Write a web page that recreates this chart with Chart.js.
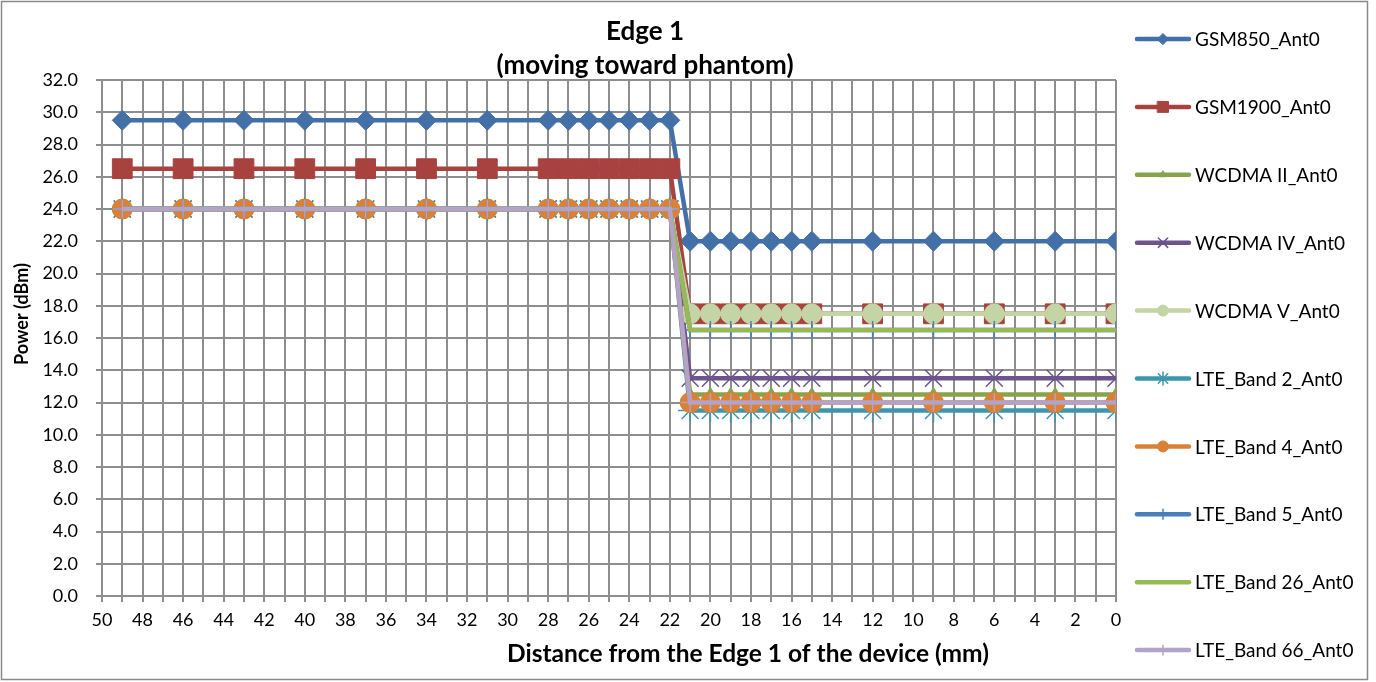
<!DOCTYPE html>
<html>
<head>
<meta charset="utf-8">
<title>Edge 1 (moving toward phantom)</title>
<script src="https://cdn.jsdelivr.net/npm/chart.js@4.4.1/dist/chart.umd.min.js"></script>
<style>
    html, body { margin: 0; padding: 0; background: #fff; }
    #wrap { width: 1376px; height: 682px; }
</style>
</head>
<body>
<div id="wrap"><canvas id="edgeChart" width="1376" height="682"></canvas></div>
<script>
// Edge 1 power vs distance chart

const FONT = 'Lato, "Noto Sans", sans-serif';
const GRID = '#8e8e8e';

// distance from edge (mm), one entry per measurement point
const distances = [49, 46, 43, 40, 37, 34, 31, 28, 27, 26, 25, 24, 23, 22,
                   21, 20, 19, 18, 17, 16, 15, 12, 9, 6, 3, 0];

// power (dBm) per band, same order as distances
const gsm850   = [29.5, 29.5, 29.5, 29.5, 29.5, 29.5, 29.5, 29.5, 29.5, 29.5, 29.5, 29.5, 29.5, 29.5,
                  22, 22, 22, 22, 22, 22, 22, 22, 22, 22, 22, 22];
const gsm1900  = [26.5, 26.5, 26.5, 26.5, 26.5, 26.5, 26.5, 26.5, 26.5, 26.5, 26.5, 26.5, 26.5, 26.5,
                  17.5, 17.5, 17.5, 17.5, 17.5, 17.5, 17.5, 17.5, 17.5, 17.5, 17.5, 17.5];
const wcdma2   = [24, 24, 24, 24, 24, 24, 24, 24, 24, 24, 24, 24, 24, 24,
                  12.5, 12.5, 12.5, 12.5, 12.5, 12.5, 12.5, 12.5, 12.5, 12.5, 12.5, 12.5];
const wcdma4   = [24, 24, 24, 24, 24, 24, 24, 24, 24, 24, 24, 24, 24, 24,
                  13.5, 13.5, 13.5, 13.5, 13.5, 13.5, 13.5, 13.5, 13.5, 13.5, 13.5, 13.5];
const wcdma5   = [24, 24, 24, 24, 24, 24, 24, 24, 24, 24, 24, 24, 24, 24,
                  17.5, 17.5, 17.5, 17.5, 17.5, 17.5, 17.5, 17.5, 17.5, 17.5, 17.5, 17.5];
const lteB2    = [24, 24, 24, 24, 24, 24, 24, 24, 24, 24, 24, 24, 24, 24,
                  11.5, 11.5, 11.5, 11.5, 11.5, 11.5, 11.5, 11.5, 11.5, 11.5, 11.5, 11.5];
const lteB4    = [24, 24, 24, 24, 24, 24, 24, 24, 24, 24, 24, 24, 24, 24,
                  12, 12, 12, 12, 12, 12, 12, 12, 12, 12, 12, 12];
const lteB5    = [24, 24, 24, 24, 24, 24, 24, 24, 24, 24, 24, 24, 24, 24,
                  16.5, 16.5, 16.5, 16.5, 16.5, 16.5, 16.5, 16.5, 16.5, 16.5, 16.5, 16.5];
const lteB26   = [24, 24, 24, 24, 24, 24, 24, 24, 24, 24, 24, 24, 24, 24,
                  16.5, 16.5, 16.5, 16.5, 16.5, 16.5, 16.5, 16.5, 16.5, 16.5, 16.5, 16.5];
const lteB66   = [24, 24, 24, 24, 24, 24, 24, 24, 24, 24, 24, 24, 24, 24,
                  12, 12, 12, 12, 12, 12, 12, 12, 12, 12, 12, 12];

const titleLines = ['Edge 1', '(moving toward phantom)'];
const xTitle = 'Distance from the Edge 1 of the device (mm)';
const yTitle = 'Power (dBm)';

function toPoints(values) {
    return distances.map((d, i) => ({ x: d, y: values[i] }));
}

// label, values, colour, marker, marker radius, marker line width
const seriesDefs = [
    ['GSM850_Ant0',       gsm850,  '#4470a8', 'rectRot',  10, 1],
    ['GSM1900_Ant0',      gsm1900, '#a8423f', 'rect',     14, 1],
    ['WCDMA II_Ant0',     wcdma2,  '#86a44a', 'triangle',  7, 1],
    ['WCDMA IV_Ant0',     wcdma4,  '#6e548d', 'crossRot', 12, 1.5],
    ['WCDMA V_Ant0',      wcdma5,  '#c3d5a4', 'circle',   10, 1],
    ['LTE_Band 2_Ant0',   lteB2,   '#3d96ae', 'star',     12, 1.5],
    ['LTE_Band 4_Ant0',   lteB4,   '#da8137', 'circle',   10, 1],
    ['LTE_Band 5_Ant0',   lteB5,   '#4a7ebb', 'cross',     9, 1.5],
    ['LTE_Band 26_Ant0',  lteB26,  '#98b954', false,       0, 0],
    ['LTE_Band 66_Ant0',  lteB66,  '#b3a3c7', 'cross',     9, 1.5]
];

const datasets = seriesDefs.map(([label, values, color, marker, radius, bw], i) => ({
    label: label,
    data: toPoints(values),
    borderColor: color,
    backgroundColor: color,
    borderWidth: 4.5,
    pointStyle: marker,
    pointRadius: radius,
    pointBorderWidth: bw,
    pointBackgroundColor: color,
    pointBorderColor: color,
    pointHoverRadius: radius,
    tension: 0,
    order: seriesDefs.length - i   // later series drawn on top, like the original
}));

// Frame, titles and the side legend are drawn by hand
const chartDecor = {
    id: 'chartDecor',
    beforeDraw(chart) {
        const ctx = chart.ctx;
        ctx.save();
        ctx.fillStyle = '#fff';
        ctx.fillRect(0, 0, chart.width, chart.height);
        ctx.strokeStyle = '#8a8a8a';
        ctx.lineWidth = 1.5;
        ctx.strokeRect(1.5, 1.5, 1366, 678);
        ctx.restore();
    },
    afterDraw(chart) {
        const ctx = chart.ctx;
        ctx.save();
        ctx.fillStyle = '#000';
        ctx.textAlign = 'center';
        ctx.textBaseline = 'alphabetic';

        // chart title
        ctx.font = 'bold 26px ' + FONT;
        ctx.fillText(titleLines[0], 645, 39.5);
        ctx.fillText(titleLines[1], 645, 73.5);

        // axis titles
        ctx.font = 'bold 24.5px ' + FONT;
        ctx.fillText(xTitle, 748, 662);

        ctx.save();
        ctx.translate(28, 314);
        ctx.rotate(-Math.PI / 2);
        ctx.font = 'bold 18px ' + FONT;
        ctx.fillText(yTitle, 0, 0);
        ctx.restore();

        // legend
        ctx.font = '19px ' + FONT;
        ctx.textAlign = 'left';
        ctx.textBaseline = 'middle';
        chart.data.datasets.forEach((ds, i) => {
            const y = 39 + i * 67.9;
            ctx.strokeStyle = ds.borderColor;
            ctx.fillStyle = ds.borderColor;
            ctx.lineWidth = ds.borderWidth;
            ctx.lineCap = 'round';
            ctx.beginPath();
            ctx.moveTo(1137, y);
            ctx.lineTo(1189, y);
            ctx.stroke();
            if (ds.pointStyle) {
                ctx.lineWidth = ds.pointBorderWidth;
                Chart.helpers.drawPoint(ctx, {
                    pointStyle: ds.pointStyle,
                    radius: ds.pointRadius * 0.55,
                    borderWidth: ds.pointBorderWidth,
                    rotation: 0
                }, 1163, y);
            }
            ctx.fillStyle = '#000';
            ctx.fillText(ds.label, 1195, y + 1);
        });
        ctx.restore();
    }
};

const ctx = document.getElementById('edgeChart').getContext('2d');

new Chart(ctx, {
    type: 'line',
    data: { datasets: datasets },
    plugins: [chartDecor],
    options: {
        responsive: false,
        animation: false,
        layout: {
            padding: { top: 80, right: 260, bottom: 8, left: 8 }
        },
        plugins: {
            legend: { display: false },
            title: { display: false },
            tooltip: { enabled: false }
        },
        scales: {
            x: {
                type: 'linear',
                reverse: true,
                min: 0,
                max: 50,
                afterFit: (scale) => { scale.height = 682 - 596 - 8; },
                ticks: {
                    stepSize: 1,
                    autoSkip: false,
                    maxRotation: 0,
                    padding: 7,
                    color: '#000',
                    font: { family: FONT, size: 18 },
                    callback: (v) => (v % 2 === 0 ? String(v) : '')
                },
                grid: { color: GRID, lineWidth: 2, tickLength: 6 },
                border: { color: GRID, width: 2 }
            },
            y: {
                min: 0,
                max: 32,
                afterFit: (scale) => { scale.width = 102 - 8; },
                ticks: {
                    stepSize: 2,
                    padding: 18,
                    color: '#000',
                    font: { family: FONT, size: 18 },
                    callback: (v) => v.toFixed(1)
                },
                grid: { color: GRID, lineWidth: 2, tickLength: 6 },
                border: { color: GRID, width: 2 }
            }
        }
    }
});
</script>
</body>
</html>
